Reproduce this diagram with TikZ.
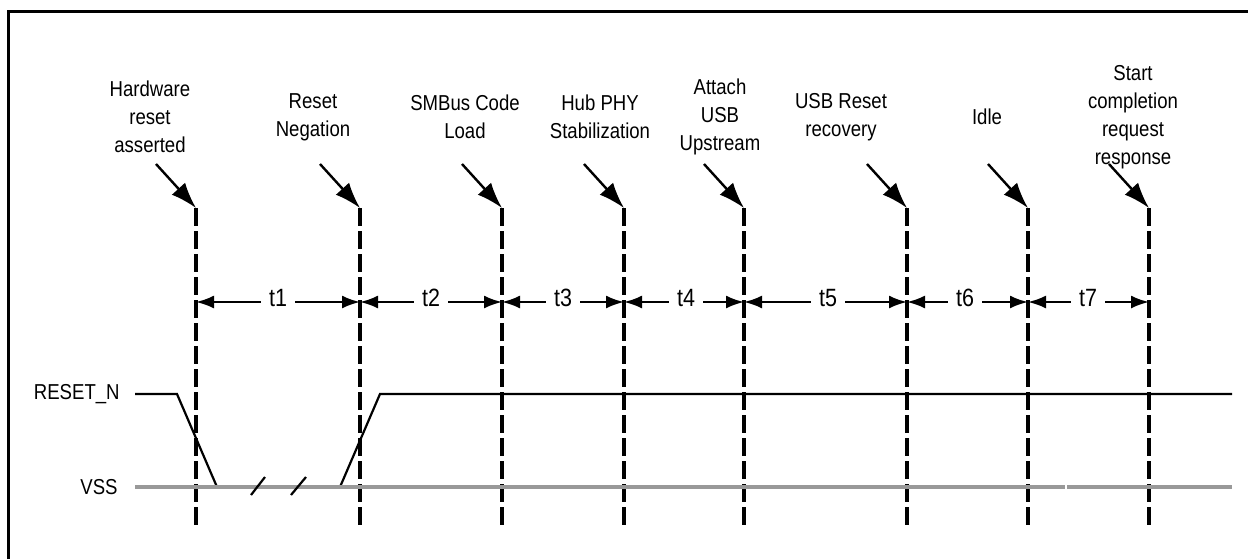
\documentclass[tikz,border=0pt]{standalone}
\usepackage{fontspec}
\setmainfont{Liberation Sans}[FakeStretch=0.86]
\usetikzlibrary{arrows.meta}
\begin{document}
\begin{tikzpicture}[x=0.5pt,y=-0.5pt,
  evlabel/.style={align=center,font=\fontsize{10.8pt}{14pt}\selectfont,inner sep=0pt},
  tlabel/.style={font=\fontsize{12.5pt}{14pt}\selectfont,inner sep=4pt},
  siglabel/.style={font=\fontsize{10.8pt}{12pt}\selectfont,inner sep=0pt,anchor=east},
  marker/.style={line width=1.7pt,dash pattern=on 9pt off 2.5pt},
  pointer/.style={line width=1.2pt,-{Latex[length=13pt,width=9pt]}},
  span/.style={line width=1.1pt,-{Latex[length=9pt,width=6.5pt]}},
  signal/.style={line width=1.1pt},
  vss/.style={line width=1.8pt,color=black!40},
  frameline/.style={line width=1.5pt}]
\useasboundingbox (0,0) rectangle (1248,559);
% frame
\draw[frameline] (8,559) -- (8,11) -- (1248,11);
% marker lines
\foreach \n/\x in {1/196,2/360,3/502,4/624,5/744,6/907,7/1028,8/1149}{
  \coordinate (top\n) at (\x,208);
  \coordinate (bot\n) at (\x,525);
  \coordinate (m\n) at (\x,302);
  \coordinate (s\n) at (\x-40,164);
  \draw[marker] (top\n) -- (bot\n);
  \draw[pointer] (s\n) -- (top\n);
}
% event labels
\node[evlabel] (e1) at (150,117) {Hardware\\reset\\asserted};
\node[evlabel] (e2) at (313,117) {Reset\\Negation};
\node[evlabel] (e3) at (465,117) {SMBus Code\\Load};
\node[evlabel] (e4) at (600,117) {Hub PHY\\Stabilization};
\node[evlabel] (e5) at (720,117) {Attach\\USB\\Upstream};
\node[evlabel] (e6) at (841,117) {USB Reset\\recovery};
\node[evlabel] (e7) at (987,117) {Idle};
\node[evlabel] (e8) at (1133,117) {Start\\completion\\request\\response};
% time spans
\foreach \a/\b/\l/\xo in {1/2/t1/278,2/3/t2/431,3/4/t3/563,4/5/t4/686,5/6/t5/828,6/7/t6/965,7/8/t7/1088}{
  \node[tlabel] (\l) at (\xo,298) {\l};
  \draw[span] (\l.west |- m\a) -- (m\a);
  \draw[span] (\l.east |- m\a) -- (m\b);
}
% signals
\node[siglabel] (rn) at (120,394) {RESET\_N};
\node[siglabel] (vs) at (118,487) {VSS};
\coordinate (r0) at (135,394);
\coordinate (r1) at (177,394);
\coordinate (r2) at (217,487);
\coordinate (r3) at (340,487);
\coordinate (r4) at (380,394);
\coordinate (r5) at (1232,394);
\draw[signal] (r0) -- (r1) -- (r2) -- (r3) -- (r4) -- (r5);
\coordinate (v0) at (135,487);
\coordinate (v1) at (1065,487);
\coordinate (v2) at (1067,487);
\coordinate (v3) at (1232,487);
\draw[vss] (v0) -- (v1);
\draw[vss] (v2) -- (v3);
% break marks
\coordinate (b1a) at (251,495); \coordinate (b1b) at (265,477);
\coordinate (b2a) at (291,495); \coordinate (b2b) at (306,477);
\draw[signal] (b1a) -- (b1b);
\draw[signal] (b2a) -- (b2b);
\end{tikzpicture}
\end{document}
